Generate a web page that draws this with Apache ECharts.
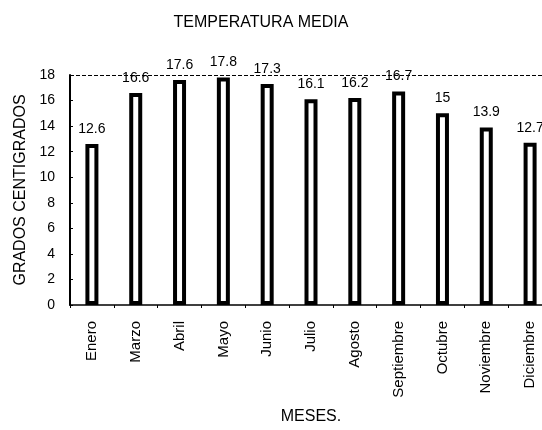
<!DOCTYPE html>
<html>
<head>
<meta charset="utf-8">
<script src="https://cdn.jsdelivr.net/npm/echarts@6/dist/echarts.min.js"></script>
<style>html,body{margin:0;padding:0;background:#fff;overflow:hidden;width:542px;height:430px;}#c{width:570px;height:430px;}</style>
</head>
<body>
<div id="c"></div>
<script>
const categories = ['Enero','Marzo','Abril','Mayo','Junio','Julio','Agosto','Septiembre','Octubre','Noviembre','Diciembre'];
const temperatures = [12.6, 16.6, 17.6, 17.8, 17.3, 16.1, 16.2, 16.7, 15, 13.9, 12.7];
const yTicks = [0, 2, 4, 6, 8, 10, 12, 14, 16, 18];

const chart = echarts.init(document.getElementById('c'), null, {renderer: 'canvas'});
const font = 'Liberation Sans, Arial, sans-serif';
chart.setOption({
  animation: false,
  backgroundColor: '#fff',
  title: {
    text: 'TEMPERATURA MEDIA',
    left: 256, top: 10, textAlign: 'center',
    textStyle: {fontFamily: font, fontSize: 16, fontWeight: 'normal', color: '#000'}
  },
  grid: {left: 70, width: 482, top: 75, height: 233},
  xAxis: {
    type: 'category',
    data: categories,
    name: 'MESES.',
    nameLocation: 'middle',
    nameGap: 104,
    nameTextStyle: {fontFamily: font, fontSize: 16, color: '#000', verticalAlign: 'top'},
    axisLine: {lineStyle: {color: '#000', width: 1.5}},
    axisTick: {show: true, length: 3, lineStyle: {color: '#000'}},
    axisLabel: {rotate: 90, fontFamily: font, fontSize: 15, color: '#000', margin: 16}
  },
  yAxis: {
    type: 'value',
    min: 0, max: 18, interval: 2,
    name: 'GRADOS CENTIGRADOS',
    nameLocation: 'middle',
    nameGap: 38,
    nameTextStyle: {fontFamily: font, fontSize: 16, color: '#000'},
    axisLine: {show: true, lineStyle: {color: '#000', width: 2}},
    axisTick: {show: true, inside: true, length: 3, lineStyle: {color: '#000'}},
    axisLabel: {fontFamily: font, fontSize: 14, color: '#000', margin: 15,
      formatter: v => yTicks.includes(v) ? String(v) : ''},
    splitLine: {show: false}
  },
  series: [{
    type: 'bar',
    data: temperatures,
    barWidth: 13,
    itemStyle: {color: '#fff', borderColor: '#000', borderWidth: 4},
    label: {show: true, position: 'top', distance: 8, fontFamily: font, fontSize: 14, color: '#000'},
    markLine: {
      silent: true, symbol: 'none',
      label: {show: false},
      lineStyle: {color: '#000', type: 'dashed', width: 1},
      data: [{yAxis: 18}]
    }
  }]
});
</script>
</body>
</html>
